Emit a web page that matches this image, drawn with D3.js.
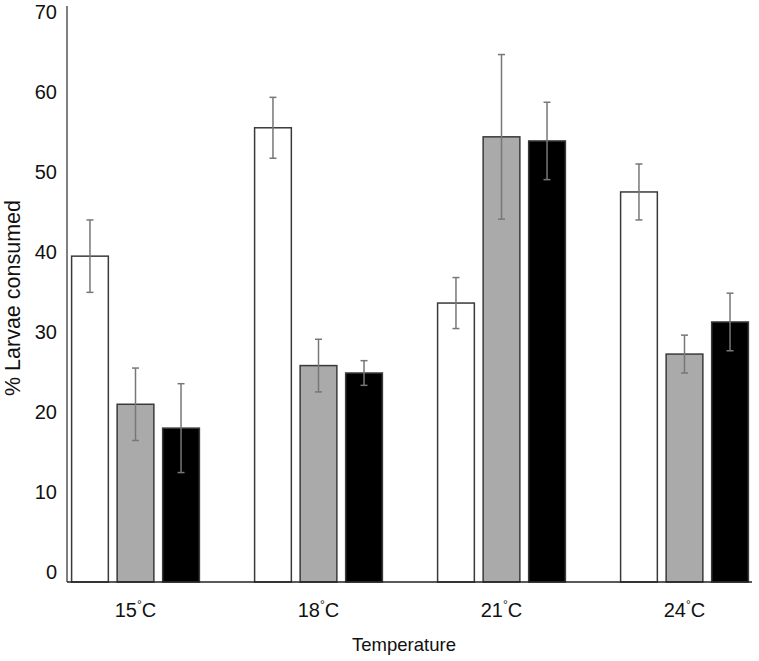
<!DOCTYPE html>
<html>
<head>
<meta charset="utf-8">
<script src="https://cdn.jsdelivr.net/npm/d3@7"></script>
<style>
  html, body { margin: 0; padding: 0; background: #fff; }
  svg { display: block; font-family: "Liberation Sans", Arial, sans-serif; }
</style>
</head>
<body>
<svg id="chart" width="759" height="661"></svg>
<script>
const categories = ["15", "18", "21", "24"];
const seriesNames = ["A", "B", "C"];
const seriesFills = ["#ffffff", "#aaaaaa", "#000000"];
const meansA = [39.6, 55.2, 33.9, 47.4];
const meansB = [21.6, 26.3, 54.1, 27.7];
const meansC = [18.7, 25.4, 53.6, 31.6];
const errA = [4.4, 3.7, 3.1, 3.4];
const errB = [4.4, 3.2, 10.0, 2.3];
const errC = [5.4, 1.5, 4.7, 3.5];
const yTicks = [0, 10, 20, 30, 40, 50, 60, 70];

const means = [meansA, meansB, meansC];
const errs = [errA, errB, errC];

const svg = d3.select("#chart");

const y = d3.scaleLinear().domain([0, 70]).range([582, 6]);
// tick labels in the original sit slightly inside the axis ends
const yLab = d3.scaleLinear().domain([0, 70]).range([574, 14]);
const x0 = d3.scaleBand().domain(categories).range([44, 776]).padding(0);
const x1 = d3.scaleBand().domain(seriesNames).range([27.6, 155.4]).paddingInner(0.193).paddingOuter(0);

const data = [];
categories.forEach((c, i) => {
  seriesNames.forEach((s, j) => {
    data.push({ cat: c, ser: s, j, v: means[j][i], e: errs[j][i] });
  });
});

// bars
svg.append("g").selectAll("rect").data(data).join("rect")
  .attr("x", d => x0(d.cat) + x1(d.ser))
  .attr("y", d => y(d.v))
  .attr("width", x1.bandwidth())
  .attr("height", d => y(0) - y(d.v))
  .attr("fill", d => seriesFills[d.j])
  .attr("stroke", "#3a3a3a")
  .attr("stroke-width", 1.5);

// error bars
const eg = svg.append("g").attr("stroke", "#777").attr("stroke-width", 1.5).attr("fill", "none");
data.forEach(d => {
  const cx = x0(d.cat) + x1(d.ser) + x1.bandwidth() / 2;
  eg.append("line").attr("x1", cx).attr("x2", cx).attr("y1", y(d.v + d.e)).attr("y2", y(d.v - d.e));
  eg.append("line").attr("x1", cx - 3.5).attr("x2", cx + 3.5).attr("y1", y(d.v + d.e)).attr("y2", y(d.v + d.e));
  eg.append("line").attr("x1", cx - 3.5).attr("x2", cx + 3.5).attr("y1", y(d.v - d.e)).attr("y2", y(d.v - d.e));
});

// y axis
svg.append("line").attr("x1", 67).attr("x2", 67).attr("y1", y(70)).attr("y2", y(0))
  .attr("stroke", "#555").attr("stroke-width", 1.5);
svg.append("g").selectAll("text").data(yTicks).join("text")
  .attr("x", 57).attr("y", d => yLab(d))
  .attr("text-anchor", "end").attr("dominant-baseline", "middle")
  .attr("font-size", 20).attr("fill", "#111")
  .text(d => d);

// x axis
svg.append("line").attr("x1", 67).attr("x2", 752).attr("y1", y(0)).attr("y2", y(0))
  .attr("stroke", "#222").attr("stroke-width", 1.5);
const xl = svg.append("g").selectAll("text").data(categories).join("text")
  .attr("x", d => x0(d) + x0.bandwidth() / 2)
  .attr("y", 617)
  .attr("text-anchor", "middle")
  .attr("font-size", 20).attr("fill", "#111");
xl.append("tspan").text(d => d);
xl.append("tspan").attr("dy", -8).attr("font-size", 12).text("°");
xl.append("tspan").attr("dy", 8).text("C");

// axis titles
svg.append("text").attr("x", 404).attr("y", 651).attr("text-anchor", "middle")
  .attr("font-size", 18.5).attr("fill", "#111").text("Temperature");
svg.append("text").attr("transform", "translate(20,298) rotate(-90)")
  .attr("text-anchor", "middle").attr("font-size", 21.5).attr("fill", "#111")
  .text("% Larvae consumed");
</script>
</body>
</html>
